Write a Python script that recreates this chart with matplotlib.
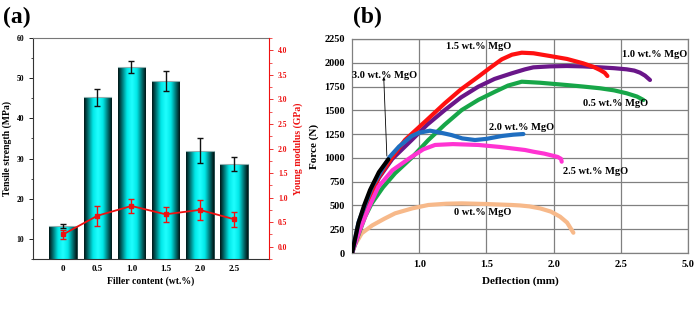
import numpy as np
import matplotlib
matplotlib.use("Agg")
import matplotlib.pyplot as plt
from matplotlib.colors import LinearSegmentedColormap
from matplotlib.ticker import MultipleLocator

plt.rcParams['font.family'] = ['Liberation Serif', 'DejaVu Serif']
plt.rcParams['font.weight'] = 'bold'

# ---------------- data panel (a) ----------------
filler_labels = ["0", "0.5", "1.0", "1.5", "2.0", "2.5"]
tensile = [13.2, 45.2, 52.7, 49.3, 32.0, 28.7]
tensile_err = [0.5, 2.0, 1.5, 2.5, 3.0, 1.7]
young = [0.25, 0.63, 0.83, 0.66, 0.75, 0.56]
young_err = [0.09, 0.20, 0.15, 0.15, 0.20, 0.15]

# ---------------- data panel (b) ----------------
x_tick_pos = [1.0, 1.5, 2.0, 2.5, 3.0]
x_tick_labels = ["1.0", "1.5", "2.0", "2.5", "5.0"]

c0_x = [0.50, 0.52, 0.572, 0.65, 0.74, 0.82, 0.95, 1.068, 1.20, 1.316, 1.50, 1.688, 1.75, 1.82, 1.90, 1.98, 2.048, 2.10, 2.147]
c0_y = [0, 80, 207, 290, 360, 417, 470, 505, 518, 522, 515, 505, 500, 490, 469, 435, 382, 320, 213]

c05_x = [0.50, 0.55, 0.597, 0.647, 0.73, 0.82, 0.95, 1.068, 1.19, 1.316, 1.44, 1.564, 1.66, 1.763, 1.90, 2.097, 2.22, 2.345, 2.45, 2.544, 2.62, 2.668]
c05_y = [0, 200, 382, 522, 690, 838, 1010, 1188, 1350, 1503, 1610, 1696, 1760, 1801, 1790, 1766, 1750, 1732, 1710, 1679, 1645, 1609]

c10_x = [0.50, 0.56, 0.62, 0.70, 0.80, 0.944, 1.06, 1.19, 1.31, 1.44, 1.56, 1.688, 1.787, 1.849, 1.97, 2.097, 2.22, 2.345, 2.45, 2.544, 2.60, 2.643, 2.68, 2.717]
c10_y = [0, 330, 560, 790, 990, 1188, 1350, 1503, 1635, 1749, 1830, 1889, 1931, 1952, 1962, 1966, 1962, 1952, 1943, 1931, 1918, 1896, 1865, 1819]

c15_x = [0.50, 0.56, 0.62, 0.70, 0.80, 0.894, 1.05, 1.19, 1.31, 1.44, 1.53, 1.614, 1.69, 1.763, 1.85, 1.973, 2.10, 2.22, 2.30, 2.345, 2.38, 2.40]
c15_y = [0, 330, 560, 800, 1010, 1188, 1390, 1574, 1720, 1854, 1950, 2036, 2085, 2106, 2100, 2071, 2040, 1994, 1955, 1924, 1895, 1861]

c20_x = [0.50, 0.55, 0.65, 0.78, 0.85, 0.944, 1.00, 1.08, 1.16, 1.24, 1.32, 1.415, 1.50, 1.614, 1.70, 1.775]
c20_y = [0, 330, 700, 1010, 1120, 1230, 1265, 1286, 1265, 1240, 1205, 1188, 1200, 1230, 1244, 1251]

c25_x = [0.50, 0.56, 0.62, 0.696, 0.80, 0.944, 1.03, 1.118, 1.25, 1.44, 1.60, 1.787, 1.849, 1.93, 1.973, 2.03, 2.055, 2.06]
c25_y = [0, 250, 460, 697, 870, 1012, 1090, 1136, 1145, 1136, 1115, 1083, 1065, 1045, 1030, 1010, 990, 960]

c30_x = [0.50, 0.547, 0.59, 0.634, 0.70, 0.77]
c30_y = [0, 312, 500, 662, 850, 985]

curves = [
    (c0_x, c0_y, '#f7b98a'),
    (c05_x, c05_y, '#17a648'),
    (c10_x, c10_y, '#6a1689'),
    (c15_x, c15_y, '#ff1010'),
    (c25_x, c25_y, '#ff33d2'),
    (c20_x, c20_y, '#1f6ec0'),
    (c30_x, c30_y, '#000000'),
]

labels_b = [
    ("1.5 wt.% MgO", 1.44, 2166),
    ("1.0 wt.% MgO", 2.75, 2082),
    ("3.0 wt.% MgO", 0.745, 1861),
    ("0.5 wt.% MgO", 2.46, 1577),
    ("2.0 wt.% MgO", 1.76, 1320),
    ("2.5 wt.% MgO", 2.31, 852),
    ("0 wt.% MgO", 1.475, 430),
]

fig = plt.figure(figsize=(7.0, 3.09), dpi=100)

# ================= panel (a) =================
ax = fig.add_axes([0.0471, 0.1618, 0.3371, 0.7152])
ylo, yhi = 5, 60
x = np.arange(len(filler_labels))
bars = ax.bar(x, tensile, width=0.8, bottom=0, color='#00e0e0',
              edgecolor='#1a3030', linewidth=0.6, zorder=2)
cmap = LinearSegmentedColormap.from_list(
    'cy', [(0.0, '#001414'), (0.12, '#006060'), (0.32, '#00e8e8'),
           (0.5, '#20ffff'), (0.68, '#00e8e8'), (0.88, '#006060'), (1.0, '#001414')])
grad = np.linspace(0, 1, 128).reshape(1, -1)
for b in bars:
    x0, w = b.get_x(), b.get_width()
    h = b.get_height()
    im = ax.imshow(grad, extent=(x0, x0 + w, ylo, h), aspect='auto', cmap=cmap,
                   zorder=2.1, interpolation='bicubic')
    im.set_clip_path(b)
    ax.plot([x0, x0 + w], [h, h], color='#8fb0b0', lw=0.8, zorder=2.2)
ax.errorbar(x, tensile, yerr=tensile_err, fmt='none', ecolor='#111111',
            elinewidth=1.0, capsize=2, capthick=1.0, zorder=3)
ax.set_xlim(-0.88, 6.02)
ax.set_ylim(ylo, yhi)
ax.set_xticks(x)
ax.set_xticklabels(filler_labels, fontsize=6.5, fontweight='bold')
ax.tick_params(axis='x', length=0, pad=4)
ax.yaxis.set_major_locator(MultipleLocator(10))
ax.yaxis.set_minor_locator(MultipleLocator(5))
ax.tick_params(axis='y', which='major', length=3, width=0.6, labelsize=5.5, direction='out')
ax.tick_params(axis='y', which='minor', length=1.8, width=0.5)
for lab in ax.get_yticklabels():
    lab.set_fontweight('bold')
ax.set_ylabel('Tensile strength (MPa)', fontsize=7, fontweight='bold', labelpad=3)
ax.set_xlabel('Filler content (wt.%)', fontsize=7, fontweight='bold', labelpad=3)
for s in ['left', 'bottom', 'top']:
    ax.spines[s].set_color('#333333')
    ax.spines[s].set_linewidth(0.8)
ax.spines['top'].set_color('#777777')
ax.spines['right'].set_visible(False)

ax2 = ax.twinx()
ax2.errorbar(x, young, yerr=young_err, color='#ee1111', lw=1.3, marker='s',
             ms=3.2, ecolor='#ee1111', elinewidth=1.0, capsize=2, capthick=1.0, zorder=4)
ax2.set_ylim(-0.25, 4.25)
ax2.yaxis.set_major_locator(MultipleLocator(0.5))
ax2.yaxis.set_minor_locator(MultipleLocator(0.25))
ax2.tick_params(axis='y', which='major', colors='#ee1111', length=3, width=0.6, labelsize=5.5)
ax2.tick_params(axis='y', which='minor', colors='#ee1111', length=1.8, width=0.5)
ax2.set_yticks(np.arange(0, 4.01, 0.5))
ax2.set_yticklabels([f"{v:.1f}" for v in np.arange(0, 4.01, 0.5)], fontweight='bold')
ax2.set_ylabel('Young modulus (GPa)', color='#ee1111', fontsize=7, fontweight='bold', labelpad=4)
ax2.spines['right'].set_color('#ee1111')
ax2.spines['right'].set_linewidth(0.8)
for s in ['left', 'top', 'bottom']:
    ax2.spines[s].set_visible(False)

fig.text(0.005, 0.945, '(a)', fontsize=17, fontweight='bold', va='center', ha='left')

# ================= panel (b) =================
bx = fig.add_axes([0.5029, 0.1812, 0.48, 0.6926])
for cx, cy, col in curves:
    bx.plot(cx, cy, color=col, lw=3.0, solid_capstyle='round', zorder=3)
bx.set_xlim(0.5, 3.0)
bx.set_ylim(0, 2250)
bx.set_xticks(x_tick_pos)
bx.set_xticklabels(x_tick_labels, fontsize=7.5, fontweight='bold')
bx.set_yticks(np.arange(0, 2251, 250))
bx.set_yticklabels([str(v) for v in range(0, 2251, 250)], fontsize=7.5, fontweight='bold')
bx.tick_params(length=0, pad=5)
bx.grid(True, color='#808080', lw=0.9, zorder=1)
bx.set_axisbelow(True)
for s in bx.spines.values():
    s.set_color('#808080')
    s.set_linewidth(0.9)
bx.set_xlabel('Deflection (mm)', fontsize=8, fontweight='bold', labelpad=5)
bx.set_ylabel('Force (N)', fontsize=8, fontweight='bold', labelpad=4)
for txt, tx, ty in labels_b:
    bx.text(tx, ty, txt, fontsize=7.5, fontweight='bold', ha='center', va='center', zorder=5)
bx.annotate('', xy=(0.735, 1880), xytext=(0.76, 990),
            arrowprops=dict(arrowstyle='-|>', color='black', lw=0.6, mutation_scale=4), zorder=5)

fig.text(0.505, 0.945, '(b)', fontsize=17, fontweight='bold', va='center', ha='left')

fig.savefig('out.png', dpi=100)
